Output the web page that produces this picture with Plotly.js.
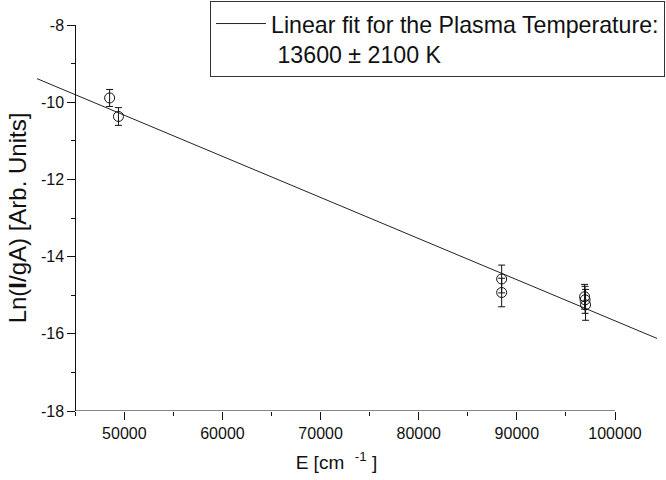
<!DOCTYPE html>
<html>
<head>
<meta charset="utf-8">
<script src="https://cdn.plot.ly/plotly-3.0.1.min.js"></script>
<style>html,body{margin:0;padding:0;background:#fff;}#chart{width:666px;height:480px;}</style>
</head>
<body>
<div id="chart"></div>
<script>
// Measured points
var energy = [48500, 49400, 88450, 88450, 96900, 96950, 97000];
var lnIgA  = [-9.89, -10.37, -14.58, -14.93, -15.04, -15.12, -15.25];
var lnErr  = [0.22, 0.23, 0.36, 0.37, 0.32, 0.35, 0.40];
// Linear fit end points
var fitE  = [41100, 104280];
var fitLn = [-9.39, -16.12];
var fitName = "Linear fit for the Plasma Temperature:<br> 13600 \u00b1 2100 K";
var yTickVals = [-18, -16, -14, -12, -10, -8];
var yTickText = ["-18", "-16", "-14", "-12", "-10", "-8"];
var yMinorVals = [-17, -15, -13, -11, -9];
var xTickVals = [50000, 60000, 70000, 80000, 90000, 100000];
var xTickText = ["50000", "60000", "70000", "80000", "90000", "100000"];
var xMinorVals = [45000, 55000, 65000, 75000, 85000, 95000];
var axisStart = 45000, axisEnd = 100000;

var font = "Liberation Sans, Arial, sans-serif";
var xRange = [fitE[0], fitE[1]];
var yPos = (axisStart - xRange[0]) / (xRange[1] - xRange[0]);
var nb = '\u00a0';

var traces = [
  {
    x: fitE, y: fitLn, mode: 'lines', name: fitName,
    line: {color: '#222', width: 1}, showlegend: true
  },
  {
    x: energy, y: lnIgA, mode: 'markers', showlegend: false,
    marker: {symbol: 'circle-open', size: 10, color: '#111', line: {width: 1, color: '#111'}},
    error_y: {type: 'data', array: lnErr, visible: true, color: '#111', thickness: 1, width: 3.5},
    cliponaxis: false
  }
];

var layout = {
  width: 666, height: 480,
  margin: {l: 37, r: 9, t: 25, b: 69, autoexpand: false},
  paper_bgcolor: '#fff', plot_bgcolor: 'rgba(0,0,0,0)',
  font: {family: font, color: '#111'},
  showlegend: true,
  legend: {
    xref: 'container', yref: 'container',
    x: 0.9985, xanchor: 'right', y: 0.998, yanchor: 'top',
    bordercolor: '#333', borderwidth: 1, bgcolor: '#fff',
    font: {family: font, size: 23.2, color: '#111'},
    valign: 'top', itemwidth: 50, tracegroupgap: 0
  },
  xaxis: {
    range: xRange, showgrid: false, zeroline: false, showline: false,
    tickmode: 'array', tickvals: xTickVals, ticktext: xTickText,
    ticks: 'outside', ticklen: 8, tickwidth: 1, tickcolor: '#111',
    tickfont: {family: font, size: 16, color: '#111'},
    minor: {tickmode: 'array', tickvals: xMinorVals, ticks: 'outside', ticklen: 4, tickwidth: 1, tickcolor: '#111'},
    title: {text: 'E [cm' + nb + nb + '<sup>-1</sup>' + nb + ']' + nb + nb + nb + nb + '\u200b',
            font: {family: font, size: 19, color: '#111'}, standoff: 14}
  },
  yaxis: {
    range: [-18, -8], anchor: 'free', position: yPos,
    showgrid: false, zeroline: false, showline: true, linecolor: '#111', linewidth: 1,
    tickmode: 'array', tickvals: yTickVals, ticktext: yTickText,
    ticks: 'outside', ticklen: 8, tickwidth: 1, tickcolor: '#111',
    tickfont: {family: font, size: 16, color: '#111'},
    minor: {tickmode: 'array', tickvals: yMinorVals, ticks: 'outside', ticklen: 4, tickwidth: 1, tickcolor: '#111'},
    title: {text: 'Ln(<b>I</b>/gA) [Arb. Units]', font: {family: font, size: 24, color: '#111'}, standoff: 6}
  },
  shapes: [
    {type: 'line', xref: 'x', yref: 'y', x0: axisStart, x1: axisEnd, y0: -18, y1: -18,
     line: {color: '#111', width: 1}, layer: 'above'}
  ]
};

Plotly.newPlot('chart', traces, layout, {displayModeBar: false, staticPlot: true});
</script>
</body>
</html>
